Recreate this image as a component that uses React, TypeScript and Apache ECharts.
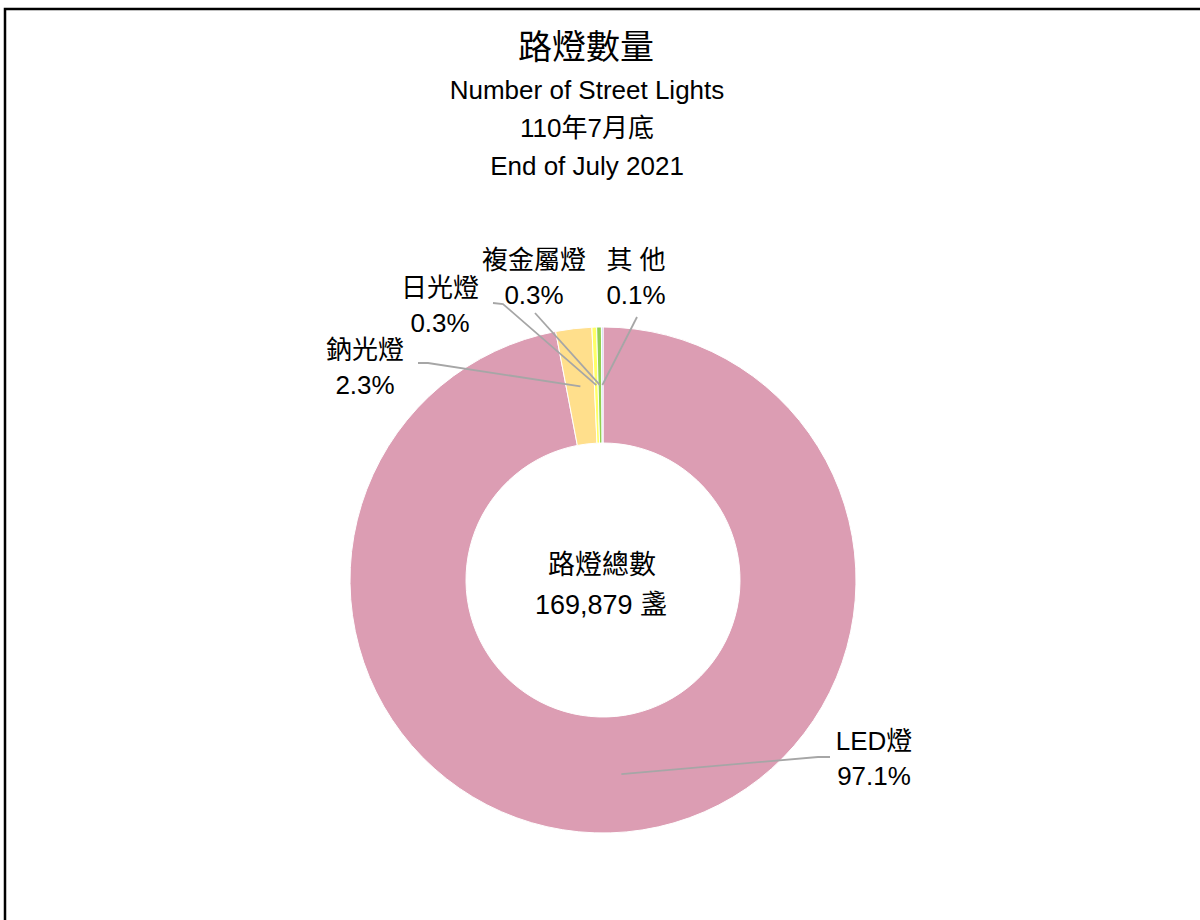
import React, { useEffect, useRef } from 'react';
import * as echarts from 'echarts';

// ---- data ----
const categories = ['LED燈', '鈉光燈', '日光燈', '複金屬燈', '其 他'];
const shares = [97.1, 2.3, 0.3, 0.3, 0.1];
const titleLines = ['路燈數量', 'Number of Street Lights', '110年7月底', 'End of July 2021'];
const centerLines = ['路燈總數', '169,879 盞'];

// ---- styles / layout ----
const colors = ['#DC9DB3', '#FFDF8C', '#FFFF66', '#92D050', '#B4C7E7'];
const labelAnchors = [
  [874, 758],
  [365, 367],
  [440, 305],
  [534, 277],
  [636, 277],
];
const labelElbows = [
  [[818, 757], [830, 757]],
  [[428, 363], [418, 363]],
  [[503, 304], [493, 303]],
  [[535, 313], [535, 313]],
  [[637, 317], [637, 317]],
];

const CJK = "'Noto Sans CJK TC', 'Noto Sans CJK SC', sans-serif";
const SANS = "'Liberation Sans', Arial, 'Noto Sans CJK TC', sans-serif";
const CX = 603;
const CY = 580;

export default function App() {
  const ref = useRef<HTMLDivElement>(null);
  useEffect(() => {
    if (!ref.current) return;
    const chart = echarts.init(ref.current, null, { renderer: 'svg' });
    const data = categories.map((name, i) => ({
      name,
      value: shares[i],
      itemStyle: { color: colors[i] },
    }));
    const option: any = {
      animation: false,
      backgroundColor: '#fff',
      graphic: [
        {
          type: 'rect',
          shape: { x: 5, y: 9, width: 1300, height: 1100 },
          style: { fill: 'none', stroke: '#000', lineWidth: 2.5 },
          silent: true,
        },
        {
          type: 'text',
          x: 586,
          y: 44,
          style: { text: titleLines[0], font: `34px ${CJK}`, fill: '#000', align: 'center', verticalAlign: 'middle' },
        },
        {
          type: 'text',
          x: 587,
          y: 90,
          style: { text: titleLines[1], font: `26px ${SANS}`, fill: '#000', align: 'center', verticalAlign: 'middle' },
        },
        {
          type: 'text',
          x: 587,
          y: 128,
          style: { text: titleLines[2], font: `26px ${SANS}`, fill: '#000', align: 'center', verticalAlign: 'middle' },
        },
        {
          type: 'text',
          x: 587,
          y: 166,
          style: { text: titleLines[3], font: `26px ${SANS}`, fill: '#000', align: 'center', verticalAlign: 'middle' },
        },
        {
          type: 'text',
          x: 602,
          y: 562,
          style: { text: centerLines[0], font: `27px ${CJK}`, fill: '#000', align: 'center', verticalAlign: 'middle' },
        },
        {
          type: 'text',
          x: 601,
          y: 605,
          style: { text: centerLines[1], font: `27px ${SANS}`, fill: '#000', align: 'center', verticalAlign: 'middle' },
        },
      ],
      series: [
        {
          type: 'pie',
          center: [CX, CY],
          radius: [137, 253],
          startAngle: 90,
          clockwise: true,
          silent: true,
          label: { show: false },
          labelLine: { show: false },
          itemStyle: { borderColor: '#fff', borderWidth: 1 },
          data,
          z: 1,
        },
        {
          type: 'pie',
          center: [CX, CY],
          radius: [0, 195],
          startAngle: 90,
          clockwise: true,
          silent: true,
          avoidLabelOverlap: false,
          z: 3,
          data: categories.map((name, i) => ({
            name,
            value: shares[i],
            itemStyle: { color: 'rgba(0,0,0,0)', borderWidth: 0 },
          })),
          label: {
            show: true,
            position: 'outside',
            formatter: (p: any) => `{n|${p.name}}\n{p|${Number(p.value).toFixed(1)}%}`,
            rich: {
              n: { fontFamily: SANS, fontSize: 26, lineHeight: 35, color: '#000', align: 'center' },
              p: { fontFamily: SANS, fontSize: 26, lineHeight: 35, color: '#000', align: 'center' },
            },
          },
          labelLine: {
            show: true,
            length: 20,
            length2: 20,
            lineStyle: { color: '#A6A6A6', width: 1.8 },
          },
          labelLayout: (params: any) => {
            const i = params.dataIndex;
            const pts = params.labelLinePoints;
            const [ax, ay] = labelAnchors[i];
            const res: any = { x: ax, y: ay, align: 'center', verticalAlign: 'middle' };
            if (pts && pts.length) {
              res.labelLinePoints = [pts[0], ...labelElbows[i]];
            }
            return res;
          },
        },
      ],
    };
    chart.setOption(option);
    return () => chart.dispose();
  }, []);
  return (
    <div
      ref={ref}
      style={{ position: 'absolute', left: 0, top: 0, width: 1200, height: 920 }}
    />
  );
}
